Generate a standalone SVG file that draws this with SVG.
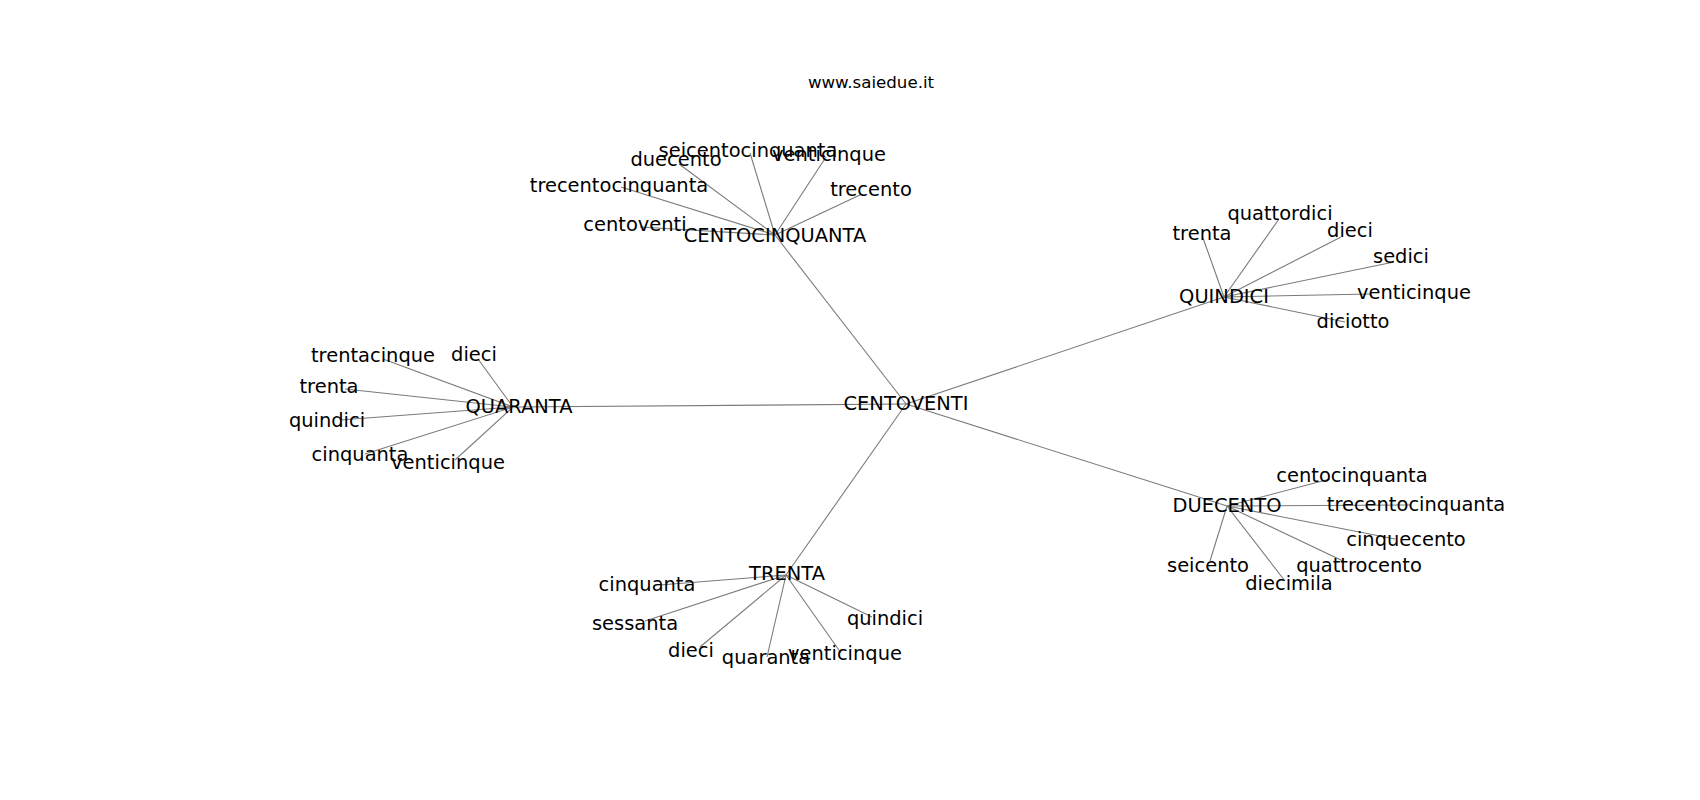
<svg xmlns="http://www.w3.org/2000/svg" width="1700" height="800" viewBox="0 0 1700 800">
<style>
  .e { stroke: #7a7a7a; stroke-width: 1.1; fill: none; }
  .lbl { font-family: "DejaVu Sans", sans-serif; font-size: 19.44px; fill: #000; text-anchor: middle; }
  .title { font-family: "DejaVu Sans", sans-serif; font-size: 16.67px; fill: #000; text-anchor: middle; }
</style>
<rect x="0" y="0" width="1700" height="800" fill="#ffffff"/>
<text class="title" x="871" y="88">www.saiedue.it</text>
<g id="edges">
  <!-- hub edges -->
  <line class="e" x1="906" y1="404" x2="775" y2="235"/>
  <line class="e" x1="906" y1="404" x2="1224" y2="297"/>
  <line class="e" x1="906" y1="404" x2="513" y2="407"/>
  <line class="e" x1="906" y1="404" x2="1227" y2="506"/>
  <line class="e" x1="906" y1="404" x2="786" y2="575"/>
  <!-- CENTOCINQUANTA -->
  <line class="e" x1="775" y1="235" x2="750" y2="153"/>
  <line class="e" x1="775" y1="235" x2="679" y2="164"/>
  <line class="e" x1="775" y1="235" x2="826" y2="157"/>
  <line class="e" x1="775" y1="235" x2="621" y2="187"/>
  <line class="e" x1="775" y1="235" x2="862" y2="194"/>
  <line class="e" x1="775" y1="235" x2="640" y2="227"/>
  <!-- QUINDICI -->
  <line class="e" x1="1224" y1="297" x2="1203" y2="238"/>
  <line class="e" x1="1224" y1="297" x2="1279" y2="219"/>
  <line class="e" x1="1224" y1="297" x2="1341" y2="237"/>
  <line class="e" x1="1224" y1="297" x2="1394" y2="262"/>
  <line class="e" x1="1224" y1="297" x2="1370" y2="294"/>
  <line class="e" x1="1224" y1="297" x2="1345" y2="322"/>
  <!-- QUARANTA -->
  <line class="e" x1="513" y1="407" x2="383" y2="359"/>
  <line class="e" x1="513" y1="407" x2="478" y2="359"/>
  <line class="e" x1="513" y1="407" x2="345" y2="389"/>
  <line class="e" x1="513" y1="407" x2="340" y2="420"/>
  <line class="e" x1="513" y1="407" x2="365" y2="454"/>
  <line class="e" x1="513" y1="407" x2="455" y2="460"/>
  <!-- TRENTA -->
  <line class="e" x1="786" y1="575" x2="660" y2="585"/>
  <line class="e" x1="786" y1="575" x2="645" y2="621"/>
  <line class="e" x1="786" y1="575" x2="700" y2="647"/>
  <line class="e" x1="786" y1="575" x2="767" y2="657"/>
  <line class="e" x1="786" y1="575" x2="841" y2="653"/>
  <line class="e" x1="786" y1="575" x2="872" y2="617"/>
  <!-- DUECENTO -->
  <line class="e" x1="1227" y1="506" x2="1330" y2="479"/>
  <line class="e" x1="1227" y1="506" x2="1410" y2="505"/>
  <line class="e" x1="1227" y1="506" x2="1395" y2="539"/>
  <line class="e" x1="1227" y1="506" x2="1343" y2="561"/>
  <line class="e" x1="1227" y1="506" x2="1285" y2="581"/>
  <line class="e" x1="1227" y1="506" x2="1210" y2="561"/>
</g>
<g id="n-centoventi"><text class="lbl" x="906" y="410">CENTOVENTI</text></g>
<g id="n-centocinquanta"><text class="lbl" x="775" y="242">CENTOCINQUANTA</text></g>
<g id="n-quindici"><text class="lbl" x="1224" y="303">QUINDICI</text></g>
<g id="n-quaranta"><text class="lbl" x="519" y="413">QUARANTA</text></g>
<g id="n-trenta"><text class="lbl" x="787" y="580">TRENTA</text></g>
<g id="n-duecento"><text class="lbl" x="1227" y="512">DUECENTO</text></g>

<g id="n-cc-seicentocinquanta"><text class="lbl" x="748" y="157">seicentocinquanta</text></g>
<g id="n-cc-duecento"><text class="lbl" x="676" y="166">duecento</text></g>
<g id="n-cc-venticinque"><text class="lbl" x="829" y="161">venticinque</text></g>
<g id="n-cc-trecentocinquanta"><text class="lbl" x="619" y="192">trecentocinquanta</text></g>
<g id="n-cc-trecento"><text class="lbl" x="871" y="196">trecento</text></g>
<g id="n-cc-centoventi"><text class="lbl" x="635" y="231">centoventi</text></g>

<g id="n-q15-trenta"><text class="lbl" x="1202" y="240">trenta</text></g>
<g id="n-q15-quattordici"><text class="lbl" x="1280" y="220">quattordici</text></g>
<g id="n-q15-dieci"><text class="lbl" x="1350" y="237">dieci</text></g>
<g id="n-q15-sedici"><text class="lbl" x="1401" y="263">sedici</text></g>
<g id="n-q15-venticinque"><text class="lbl" x="1414" y="299">venticinque</text></g>
<g id="n-q15-diciotto"><text class="lbl" x="1353" y="328">diciotto</text></g>

<g id="n-q40-trentacinque"><text class="lbl" x="373" y="362">trentacinque</text></g>
<g id="n-q40-dieci"><text class="lbl" x="474" y="361">dieci</text></g>
<g id="n-q40-trenta"><text class="lbl" x="329" y="393">trenta</text></g>
<g id="n-q40-quindici"><text class="lbl" x="327" y="427">quindici</text></g>
<g id="n-q40-cinquanta"><text class="lbl" x="360" y="461">cinquanta</text></g>
<g id="n-q40-venticinque"><text class="lbl" x="448" y="469">venticinque</text></g>

<g id="n-t30-cinquanta"><text class="lbl" x="647" y="591">cinquanta</text></g>
<g id="n-t30-sessanta"><text class="lbl" x="635" y="630">sessanta</text></g>
<g id="n-t30-dieci"><text class="lbl" x="691" y="657">dieci</text></g>
<g id="n-t30-quaranta"><text class="lbl" x="766" y="664">quaranta</text></g>
<g id="n-t30-venticinque"><text class="lbl" x="845" y="660">venticinque</text></g>
<g id="n-t30-quindici"><text class="lbl" x="885" y="625">quindici</text></g>

<g id="n-d200-centocinquanta"><text class="lbl" x="1352" y="482">centocinquanta</text></g>
<g id="n-d200-trecentocinquanta"><text class="lbl" x="1416" y="511">trecentocinquanta</text></g>
<g id="n-d200-cinquecento"><text class="lbl" x="1406" y="546">cinquecento</text></g>
<g id="n-d200-quattrocento"><text class="lbl" x="1359" y="572">quattrocento</text></g>
<g id="n-d200-diecimila"><text class="lbl" x="1289" y="590">diecimila</text></g>
<g id="n-d200-seicento"><text class="lbl" x="1208" y="572">seicento</text></g>
</svg>
